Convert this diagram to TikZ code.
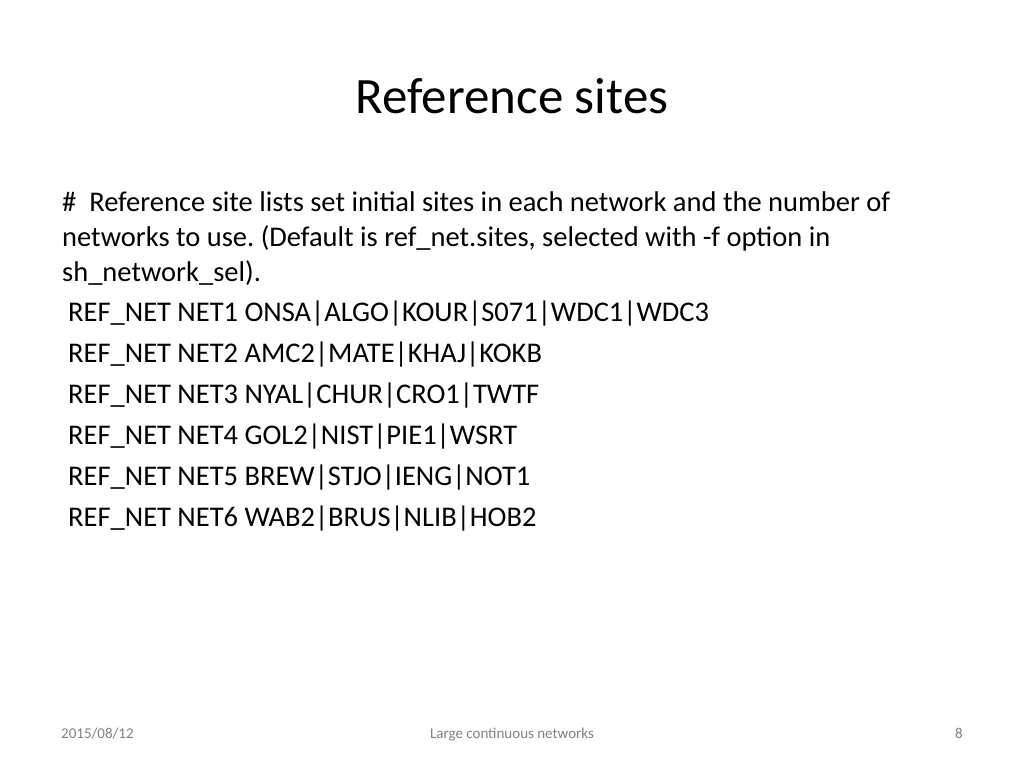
\documentclass[tikz,border=0pt]{standalone}
\usepackage{fontspec}
\setmainfont{Carlito}
\begin{document}
\begin{tikzpicture}[x=1pt,y=-1pt,
  body/.style={anchor=base west,inner sep=0pt,font=\fontsize{28.5}{32}\selectfont},
  foot/.style={anchor=base,inner sep=0pt,text=gray,font=\fontsize{15}{17}\selectfont}]
\useasboundingbox (0,0) rectangle (1024,768);
\node[anchor=base,inner sep=0pt,font=\fontsize{51}{56}\selectfont] (title) at (512,113) {Reference sites};
\node[body] (l1) at (62,211) {\#\ \ Reference site lists set initial sites in each network and the number of};
\node[body] (l2) at (62,246) {networks to use.\ (Default is ref\_net.sites, selected with -f option in};
\node[body] (l3) at (62,281) {sh\_network\_sel).};
\node[body] (r1) at (68,321) {REF\_NET NET1 ONSA|ALGO|KOUR|S071|WDC1|WDC3};
\node[body] (r2) at (68,362) {REF\_NET NET2 AMC2|MATE|KHAJ|KOKB};
\node[body] (r3) at (68,403) {REF\_NET NET3 NYAL|CHUR|CRO1|TWTF};
\node[body] (r4) at (68,444) {REF\_NET NET4 GOL2|NIST|PIE1|WSRT};
\node[body] (r5) at (68,485) {REF\_NET NET5 BREW|STJO|IENG|NOT1};
\node[body] (r6) at (68,526) {REF\_NET NET6 WAB2|BRUS|NLIB|HOB2};
\node[foot,anchor=base west] (date) at (61,738) {2015/08/12};
\node[foot] (mid) at (512,738) {Large continuous networks};
\node[foot,anchor=base east] (pg) at (963,738) {8};
\end{tikzpicture}
\end{document}
